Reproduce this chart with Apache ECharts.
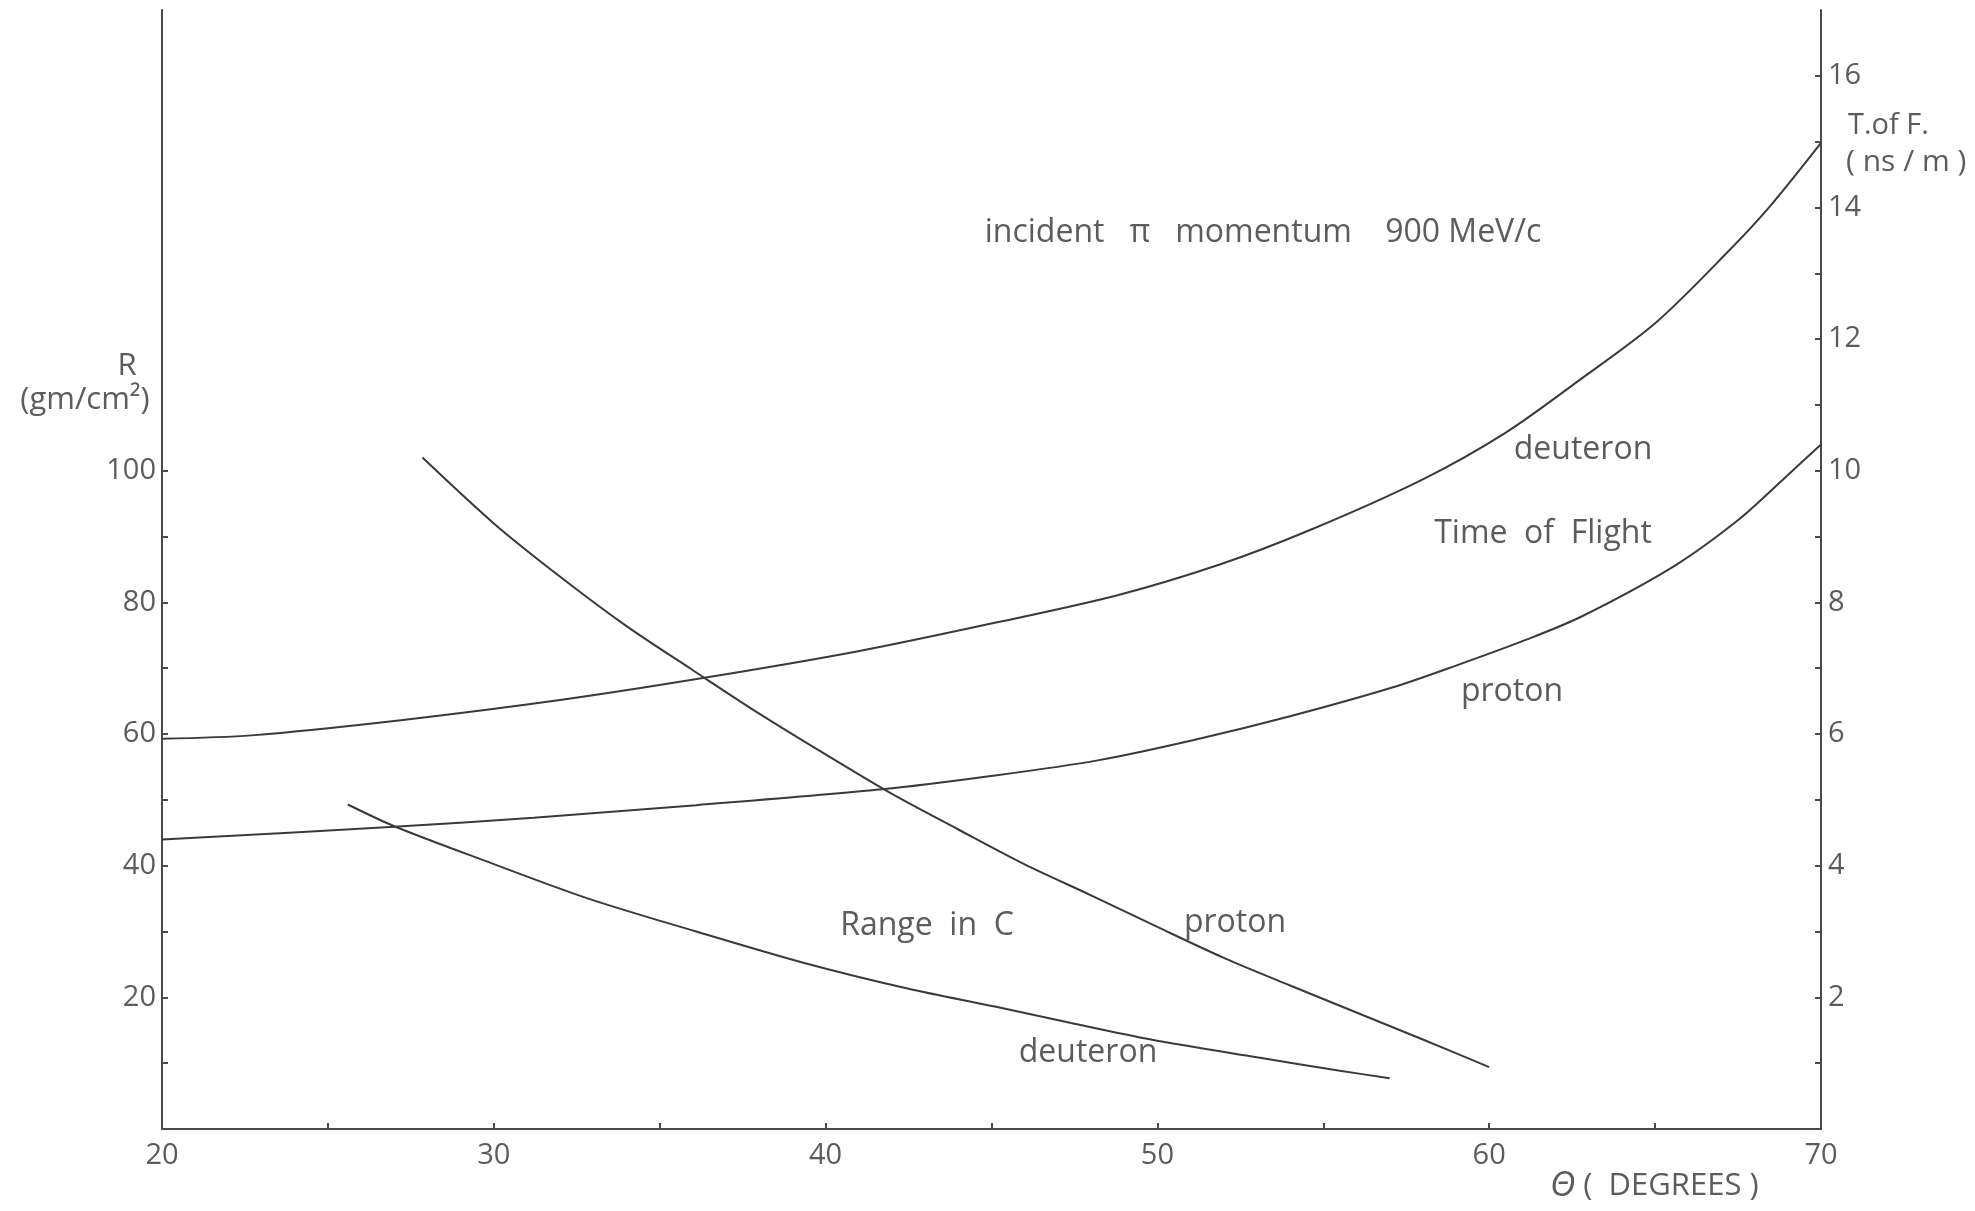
<!DOCTYPE html>
<html>
<head>
<meta charset="utf-8">
<title>Range and time of flight vs angle</title>
<script src="https://cdn.jsdelivr.net/npm/echarts@6/dist/echarts.min.js"></script>
<style>
  html, body { margin: 0; padding: 0; background: #ffffff; }
  #chart { width: 1975px; height: 1211px; }
</style>
</head>
<body>
<div id="chart"></div>
<script>
// Scattering angle θ (degrees) and the curves read against it.
// Time of flight (ns/m), right-hand axis
const tofDeuteronTheta = [20, 22.7, 27.2, 32.05, 36.3, 40.9, 45.1, 48.8, 51.9, 54.6, 58.0, 60.5, 62.7, 65.0, 67.2, 68.5, 70];
const tofDeuteronValue = [5.93, 5.98, 6.21, 6.52, 6.85, 7.25, 7.69, 8.11, 8.58, 9.10, 9.87, 10.58, 11.37, 12.24, 13.33, 14.04, 14.98];

const tofProtonTheta = [20, 27.0, 31.2, 36.1, 41.7, 45.1, 48.2, 51.1, 54.0, 57.1, 59.0, 61.1, 62.8, 65.6, 67.55, 68.84, 70];
const tofProtonValue = [4.40, 4.59, 4.73, 4.92, 5.16, 5.37, 5.60, 5.91, 6.27, 6.71, 7.04, 7.43, 7.79, 8.56, 9.27, 9.86, 10.40];

// Range in carbon (gm/cm²), left-hand axis
const rangeProtonTheta = [27.85, 30, 32, 34, 36, 38, 40, 42, 44, 46, 48, 50, 52, 54, 56, 58, 60];
const rangeProtonValue = [102.0, 92.0, 83.9, 76.4, 69.7, 63.1, 56.9, 50.9, 45.5, 40.2, 35.5, 30.7, 26.0, 21.8, 17.7, 13.6, 9.4];

const rangeDeuteronTheta = [25.6, 27.0, 29.6, 32.85, 36.1, 39.3, 42.5, 45.1, 47.4, 49.8, 53.0, 55.45, 57.0];
const rangeDeuteronValue = [49.3, 46.0, 41.0, 35.0, 30.0, 25.3, 21.3, 18.6, 16.1, 13.6, 10.9, 8.9, 7.7];

// Axis ticks and labels
const thetaTicks = [20, 25, 30, 35, 40, 45, 50, 55, 60, 65, 70];
const thetaLabels = [20, 30, 40, 50, 60, 70];
const rangeTicks = [10, 20, 30, 40, 50, 60, 70, 80, 90, 100];
const rangeLabels = [20, 40, 60, 80, 100];
const tofTicks = [1, 2, 3, 4, 5, 6, 7, 8, 9, 10, 11, 12, 13, 14, 15, 16];
const tofLabels = [2, 4, 6, 8, 10, 12, 14, 16];

const pairs = (xs, ys) => xs.map((x, i) => [x, ys[i]]);

const INK = '#3a3a3a';
const TEXT = '#5c5c5c';
const FONT = '"Open Sans", "DejaVu Sans", sans-serif';

function curve(name, xs, ys, axis) {
  return {
    name: name,
    type: 'line',
    yAxisIndex: axis,
    data: pairs(xs, ys),
    smooth: 0.3,
    showSymbol: false,
    silent: true,
    lineStyle: { color: INK, width: 2 }
  };
}

function note(text, x, y, size, align) {
  return {
    type: 'text',
    x: x, y: y,
    style: {
      text: text,
      font: size + 'px ' + FONT,
      fill: TEXT,
      textAlign: align || 'center',
      textVerticalAlign: 'middle'
    }
  };
}

const chart = echarts.init(document.getElementById('chart'), null, { renderer: 'canvas' });

const axisLineStyle = { color: '#4a4a4a', width: 2 };
const tickFont = { color: TEXT, fontSize: 29, fontFamily: FONT };

chart.setOption({
  backgroundColor: '#ffffff',
  animation: false,
  grid: { left: 162, right: 154, top: 10, bottom: 82 },
  xAxis: {
    type: 'value',
    min: 20, max: 70, interval: 5,
    axisLine: { show: true, lineStyle: axisLineStyle },
    axisTick: { show: true, inside: true, length: 6, customValues: thetaTicks, lineStyle: axisLineStyle },
    axisLabel: Object.assign({ customValues: thetaLabels, margin: 12 }, tickFont),
    splitLine: { show: false }
  },
  yAxis: [
    {
      type: 'value',
      position: 'left',
      min: 0, max: 170, interval: 10,
      axisLine: { show: true, lineStyle: axisLineStyle },
      axisTick: { show: true, inside: true, length: 6, customValues: rangeTicks, lineStyle: axisLineStyle },
      axisLabel: Object.assign({ customValues: rangeLabels, margin: 6 }, tickFont),
      splitLine: { show: false }
    },
    {
      type: 'value',
      position: 'right',
      min: 0, max: 17, interval: 1,
      axisLine: { show: true, lineStyle: axisLineStyle },
      axisTick: { show: true, inside: true, length: 6, customValues: tofTicks, lineStyle: axisLineStyle },
      axisLabel: Object.assign({ customValues: tofLabels, margin: 7 }, tickFont),
      splitLine: { show: false }
    }
  ],
  series: [
    curve('tof deuteron', tofDeuteronTheta, tofDeuteronValue, 1),
    curve('tof proton', tofProtonTheta, tofProtonValue, 1),
    curve('range proton', rangeProtonTheta, rangeProtonValue, 0),
    curve('range deuteron', rangeDeuteronTheta, rangeDeuteronValue, 0)
  ],
  graphic: [
    // axis titles
    note('R', 127, 366, 31),
    note('(gm/cm²)', 85, 400, 31),
    note('T.of F.', 1848, 126, 29, 'left'),
    note('( ns / m )', 1846, 162, 30, 'left'),
    {
      type: 'text',
      x: 1550, y: 1186,
      style: {
        text: '{t|Θ} (  DEGREES )',
        font: '31px ' + FONT,
        fill: TEXT,
        textAlign: 'left',
        textVerticalAlign: 'middle',
        rich: {
          t: { font: 'italic 35px ' + FONT, fill: TEXT }
        }
      }
    },
    // annotations
    note('incident   π   momentum    900 MeV/c', 1263, 233, 32),
    note('deuteron', 1583, 450, 32),
    note('Time  of  Flight', 1543, 534, 32),
    note('proton', 1512, 692, 32),
    note('Range  in  C', 927, 926, 32),
    note('proton', 1235, 923, 32),
    note('deuteron', 1088, 1053, 32)
  ]
});
</script>
</body>
</html>
